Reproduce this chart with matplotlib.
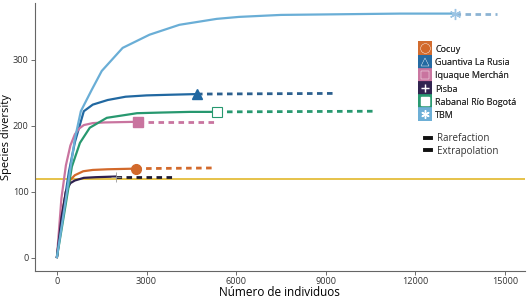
import matplotlib
matplotlib.use("Agg")
import matplotlib.pyplot as plt
from matplotlib.lines import Line2D

plt.rcParams["font.family"] = ["Open Sans", "DejaVu Sans"]
plt.rcParams["text.color"] = "#333333"

# --- rarefaction curves ---
sites = ["Cocuy", "Guantiva La Rusia", "Iquaque Merchán", "Pisba",
         "Rabanal Río Bogotá", "TBM"]
colors = ["#d2692b", "#2168a1", "#c9749f", "#2d1f4e", "#27986f", "#6aaed6"]
dash_colors = ["#d2692b", "#2b5f8e", "#c9749f", "#1e1a30", "#27986f", "#8cb3d3"]
markers = ["o", "^", "s", "+", "s", (6, 2, 0)]

cocuy_x = [0, 150, 300, 450, 600, 880, 1200, 1700, 2650]
cocuy_y = [1, 60, 100, 118, 125, 131, 133, 134, 135]
guantiva_x = [0, 200, 400, 600, 900, 1200, 1700, 2300, 3000, 3800, 4690]
guantiva_y = [1, 70, 130, 175, 222, 232, 239, 244, 246, 247, 248]
iquaque_x = [0, 150, 300, 450, 600, 750, 900, 1200, 1600, 2710]
iquaque_y = [1, 90, 140, 170, 187, 196, 201, 204, 205, 206]
pisba_x = [0, 150, 300, 450, 600, 900, 1300, 1975]
pisba_y = [1, 60, 100, 113, 117, 121, 122, 123]
rabanal_x = [0, 200, 500, 770, 1100, 1670, 2680, 3500, 4450, 5360]
rabanal_y = [1, 55, 138, 174, 197, 212, 219, 220, 221, 221]
tbm_x = [0, 200, 400, 600, 800, 1160, 1500, 2200, 3100, 4100, 5350, 6100,
         7500, 9500, 11500, 13320]
tbm_y = [1, 60, 120, 180, 222, 254, 283, 318, 338, 353, 362, 365, 368, 369,
         370, 370]

rare_x = [cocuy_x, guantiva_x, iquaque_x, pisba_x, rabanal_x, tbm_x]
rare_y = [cocuy_y, guantiva_y, iquaque_y, pisba_y, rabanal_y, tbm_y]

# extrapolation: from observed sample size to end
extra_end_x = [5260, 9300, 5320, 3880, 10680, 14730]
extra_end_y = [136, 249, 206, 123, 222, 370]

threshold = 120

fig, ax = plt.subplots(figsize=(5.28, 3.04), dpi=100)
fig.subplots_adjust(left=0.066, right=0.994, bottom=0.109, top=0.99)

ax.axhline(threshold, color="#e2b82a", lw=1.2, zorder=1)

for i in range(len(sites)):
    xs, ys = rare_x[i], rare_y[i]
    ax.plot([xs[-1], extra_end_x[i]], [ys[-1], extra_end_y[i]],
            color=dash_colors[i], lw=2, dashes=(2, 1.6), zorder=2)
    ax.plot(xs, ys, color=colors[i], lw=1.6, zorder=3)

# observed-sample markers
ax.plot(cocuy_x[-1], cocuy_y[-1], "o", color=colors[0], ms=7, zorder=4)
ax.plot(guantiva_x[-1], guantiva_y[-1], "^", color=colors[1], ms=7, zorder=4)
ax.plot(iquaque_x[-1], iquaque_y[-1], "s", color=colors[2], ms=6.5, zorder=4)
ax.plot(pisba_x[-1], pisba_y[-1], "+", color="#999999", ms=7, mew=0.6, zorder=4)
ax.plot(rabanal_x[-1], rabanal_y[-1], "s", mfc="white", mec=colors[4], ms=6.5,
        mew=0.8, zorder=4)
ax.plot(tbm_x[-1], tbm_y[-1], marker=(6, 2, 0), color="#9cc4e4", ms=8, mew=1,
        zorder=4)

ax.set_xlim(-740, 15670)
ax.set_ylim(-20, 386)
ax.set_xticks([0, 3000, 6000, 9000, 12000, 15000])
ax.set_yticks([0, 100, 200, 300])
ax.set_xlabel("Número de individuos", fontsize=8.5, labelpad=0)
ax.set_ylabel("Species diversity", fontsize=8)
ax.yaxis.set_label_coords(-0.046, 0.5)
ax.tick_params(labelsize=6.6, colors="#555555", length=3, width=0.6, pad=1.5,
               labelcolor="#333333")
for s in ["top", "right"]:
    ax.spines[s].set_visible(False)
for s in ["left", "bottom"]:
    ax.spines[s].set_color("#666666")
    ax.spines[s].set_linewidth(0.8)

handles = []
for i in range(len(sites)):
    bg = Line2D([], [], ls="none", marker="s", color=colors[i], alpha=0.85,
                ms=10, mew=0)
    light = i in (3, 4, 5)
    mk = Line2D([], [], ls="none", marker=markers[i],
                mfc="white" if light else colors[i],
                mec="white" if light else "#ffffff", ms=6 if i != 0 else 7,
                mew=1 if light else 0.3)
    handles.append((bg, mk))
leg1 = fig.legend(handles, sites, loc="upper left",
                  bbox_to_anchor=(0.79, 0.865), frameon=False, fontsize=6.5,
                  handlelength=1.0, handleheight=1.1, handletextpad=0.6,
                  labelspacing=0.42, borderaxespad=0)
ax.add_artist(leg1)

kind_handles = [Line2D([], [], color="#111111", lw=2.8),
                Line2D([], [], color="#111111", lw=2.8)]
fig.legend(kind_handles, ["Rarefaction", "Extrapolation"], loc="upper left",
           bbox_to_anchor=(0.797, 0.575), frameon=False, fontsize=7,
           handlelength=0.6, handletextpad=0.7, labelspacing=0.15,
           borderaxespad=0)

fig.savefig("out.png", dpi=100)
